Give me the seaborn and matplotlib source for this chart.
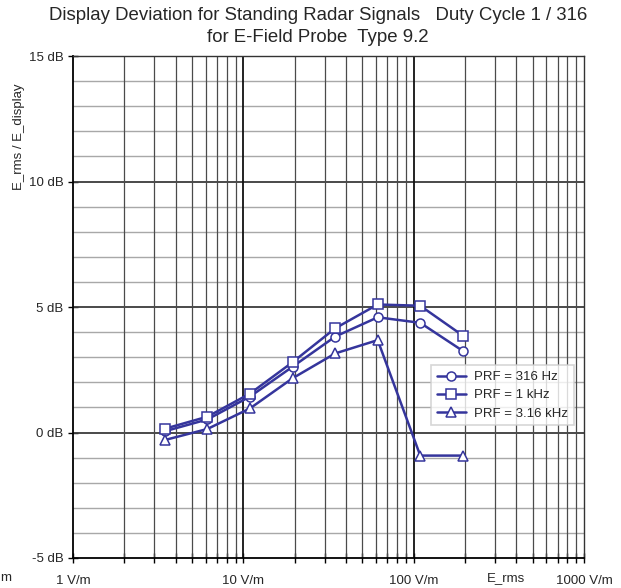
import numpy as np
import pandas as pd
import matplotlib
matplotlib.use("Agg")
import matplotlib.pyplot as plt
import matplotlib.ticker as mticker
import seaborn as sns

# Field strength steps (V/m) and measured display deviation (dB)
field_vm = [3.46, 6.15, 10.94, 19.45, 34.6, 61.5, 109.3, 194.4]
dev_316hz = [0.05, 0.52, 1.43, 2.62, 3.82, 4.59, 4.37, 3.25]
dev_1khz = [0.15, 0.63, 1.55, 2.80, 4.15, 5.10, 5.05, 3.86]
dev_3k16hz = [-0.30, 0.14, 0.96, 2.16, 3.15, 3.68, -0.92, -0.92]

series_labels = ["PRF = 316 Hz", "PRF = 1 kHz", "PRF = 3.16 kHz"]
series_markers = ["o", "s", "^"]
decade_labels = ["1 V/m", "10 V/m", "100 V/m", "1000 V/m"]

title_line1 = "Display Deviation for Standing Radar Signals   Duty Cycle 1 / 316"
title_line2 = "for E-Field Probe  Type 9.2"

sns.set_style("white")
plt.rcParams["font.family"] = ["Liberation Sans", "DejaVu Sans"]

df = pd.DataFrame({
    "field": field_vm * 3,
    "dev": dev_316hz + dev_1khz + dev_3k16hz,
    "prf": sum([[lab] * len(field_vm) for lab in series_labels], []),
})

fig = plt.figure(figsize=(6.21, 5.88), dpi=100)
ax = fig.add_axes([73 / 621, 1 - 558 / 588, (584 - 73) / 621, (558 - 56) / 588])

line_color = "#35359c"
for lab, mk in zip(series_labels, series_markers):
    sub = df[df["prf"] == lab]
    sns.lineplot(data=sub, x="field", y="dev", ax=ax, color=line_color,
                 linewidth=1.8, marker=mk, markersize=6.5,
                 markerfacecolor="white", markeredgecolor=line_color,
                 markeredgewidth=1.1, label=lab, zorder=5)

ax.set_xscale("log")
ax.set_xlim(1, 1000)
ax.set_ylim(-5, 15)

# Grid: 1 dB steps light, 5 dB steps dark; every log minor step vertical
for y in range(-4, 15):
    if y % 5 == 0:
        ax.axhline(y, color="#3c3c3c", lw=1.3, zorder=1)
    else:
        ax.axhline(y, color="#a8a8a8", lw=1.0, zorder=1)
for dec in [1, 10, 100]:
    for m in range(2, 10):
        ax.axvline(dec * m, color="#4a4a4a", lw=0.9, zorder=1)
for dec in [10, 100]:
    ax.axvline(dec, color="#111111", lw=1.3, zorder=1)

ax.xaxis.set_major_locator(mticker.FixedLocator([1, 10, 100, 1000]))
ax.xaxis.set_major_formatter(mticker.FixedFormatter(decade_labels))
ax.xaxis.set_minor_locator(mticker.LogLocator(base=10, subs=np.arange(2, 10)))
ax.xaxis.set_minor_formatter(mticker.NullFormatter())
ax.yaxis.set_major_locator(mticker.MultipleLocator(5))
ax.yaxis.set_major_formatter(mticker.FuncFormatter(lambda v, p: f"{v:.0f} dB"))

ax.tick_params(axis="x", which="both", direction="inout", length=7, width=1,
               color="black", labelsize=9.5, pad=9, top=False, bottom=True)
ax.tick_params(axis="y", which="major", direction="inout", length=7, width=1,
               color="black", labelsize=9.5, pad=3.5, left=True)

for side in ["left", "bottom"]:
    ax.spines[side].set_color("black")
    ax.spines[side].set_linewidth(1.3)
for side in ["top", "right"]:
    ax.spines[side].set_color("#333333")
    ax.spines[side].set_linewidth(1.0)

ax.set_xlabel("")
ax.set_ylabel("")

leg = ax.legend(loc="upper left", bbox_to_anchor=((431 - 73) / 511, (558 - 365) / 502),
                frameon=True, fancybox=False, fontsize=9.5, handlelength=2.2,
                handletextpad=0.6, borderpad=0.45, labelspacing=0.45,
                borderaxespad=0)
leg.get_frame().set_edgecolor("#cccccc")
leg.get_frame().set_linewidth(1.2)
leg.set_zorder(10)

fig.text(318 / 621, 1 - 15 / 588, title_line1, ha="center", va="center", fontsize=13.4)
fig.text(318 / 621, 1 - 38 / 588, title_line2, ha="center", va="center", fontsize=13.4)
fig.text(19 / 621, 1 - 137 / 588, "E_rms / E_display", rotation=90,
         ha="center", va="center", fontsize=9.5)
fig.text(506 / 621, 1 - 578 / 588, "E_rms", ha="center", va="center", fontsize=9.5)
fig.text(0.5 / 621, 1 - 578 / 588, "m", ha="left", va="center", fontsize=9.5)

fig.savefig("out.png", dpi=100)
